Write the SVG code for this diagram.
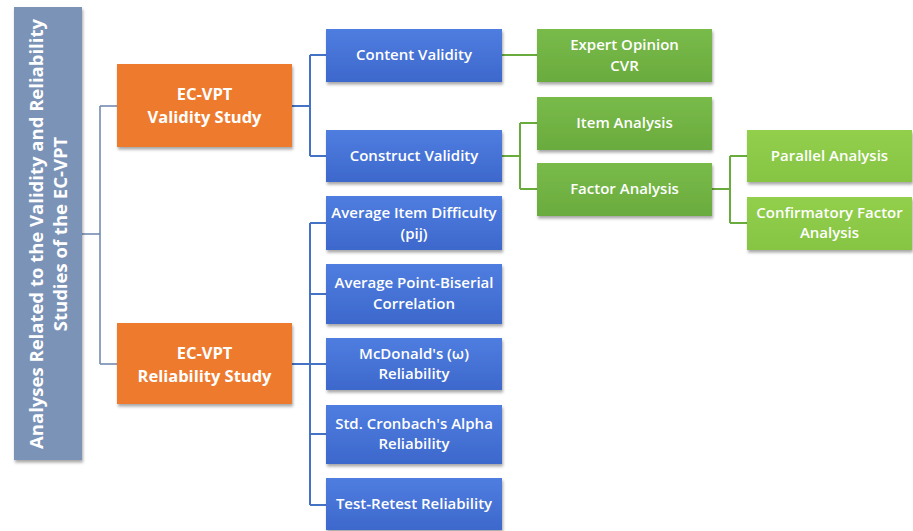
<svg xmlns="http://www.w3.org/2000/svg" width="913" height="531" viewBox="0 0 913 531">
<defs>
<filter id="sh" x="-10%" y="-10%" width="125%" height="135%">
<feDropShadow dx="1" dy="2.5" stdDeviation="1.5" flood-color="#000" flood-opacity="0.35"/>
</filter>
<linearGradient id="gBlue" x1="0" y1="0" x2="0" y2="1">
<stop offset="0" stop-color="#4f7de0"/><stop offset="1" stop-color="#3d68cc"/>
</linearGradient>
<linearGradient id="gGreen" x1="0" y1="0" x2="0" y2="1">
<stop offset="0" stop-color="#79bb4a"/><stop offset="1" stop-color="#6aab3e"/>
</linearGradient>
<linearGradient id="gLight" x1="0" y1="0" x2="0" y2="1">
<stop offset="0" stop-color="#92cf4c"/><stop offset="1" stop-color="#86c443"/>
</linearGradient>
<style>
.gray{fill:#7b93b8}
.orange{fill:#ee7a2f}
.blue{fill:url(#gBlue)}
.green{fill:url(#gGreen)}
.light{fill:url(#gLight)}
.box{filter:url(#sh)}
text{font-family:"Open Sans","Liberation Sans",sans-serif;fill:#fff;text-anchor:middle}
.t{font-size:15px;font-weight:600}
.b{font-size:16.5px;font-weight:bold}
.r{font-size:18.5px;font-weight:bold}
.cg{fill:none;stroke:#6c84ad;stroke-width:1.5}
.cb{fill:none;stroke:#4472c4;stroke-width:2}
.cgr{fill:none;stroke:#6aab3e;stroke-width:2}
</style>
</defs>
<rect width="913" height="531" fill="#fff"/>
<g id="connectors">
<path class="cg" d="M82 234 H100 M100 106 V364 M100 106 H117 M100 364 H117"/>
<path class="cb" d="M292 106 H310 M310 55 V156 M310 55 H326 M310 156 H326"/>
<path class="cb" d="M292 364 H310 M310 223 V505 M310 223 H326 M310 294 H326 M310 364 H326 M310 434 H326 M310 505 H326"/>
<path class="cgr" d="M502 55 H537 M502 156 H520 M520 123 V189 M520 123 H537 M520 189 H537"/>
<path class="cgr" d="M712 189 H730 M730 156 V223 M730 156 H747 M730 223 H747"/>
</g>
<g id="root">
<rect class="gray box" x="14" y="7" width="68" height="453"/>
<text class="r" transform="translate(43 234) rotate(-90)">Analyses Related to the Validity and Reliability</text>
<text class="r" transform="translate(67 234) rotate(-90)">Studies of the EC-VPT</text>
</g>
<g id="validity-study">
<rect class="orange box" x="117" y="64" width="175" height="83"/>
<text class="b" x="204.5" y="100">EC-VPT</text>
<text class="b" x="204.5" y="123">Validity Study</text>
</g>
<g id="reliability-study">
<rect class="orange box" x="117" y="323" width="175" height="81"/>
<text class="b" x="204.5" y="359">EC-VPT</text>
<text class="b" x="204.5" y="382">Reliability Study</text>
</g>
<g id="content-validity">
<rect class="blue box" x="326" y="29" width="176" height="53"/>
<text class="t" x="414" y="60">Content Validity</text>
</g>
<g id="construct-validity">
<rect class="blue box" x="326" y="130" width="176" height="52"/>
<text class="t" x="414" y="161">Construct Validity</text>
</g>
<g id="avg-item-difficulty">
<rect class="blue box" x="326" y="196" width="176" height="54"/>
<text class="t" x="414" y="218">Average Item Difficulty</text>
<text class="t" x="414" y="239">(pij)</text>
</g>
<g id="avg-point-biserial">
<rect class="blue box" x="326" y="264" width="176" height="60"/>
<text class="t" x="414" y="288">Average Point-Biserial</text>
<text class="t" x="414" y="309">Correlation</text>
</g>
<g id="mcdonalds">
<rect class="blue box" x="326" y="338" width="176" height="52"/>
<text class="t" x="414" y="359">McDonald's (ω)</text>
<text class="t" x="414" y="379">Reliability</text>
</g>
<g id="cronbach">
<rect class="blue box" x="326" y="405" width="176" height="59"/>
<text class="t" x="414" y="429">Std. Cronbach's Alpha</text>
<text class="t" x="414" y="449">Reliability</text>
</g>
<g id="test-retest">
<rect class="blue box" x="326" y="478" width="176" height="52"/>
<text class="t" x="414" y="509">Test-Retest Reliability</text>
</g>
<g id="expert-opinion">
<rect class="green box" x="537" y="29" width="175" height="53"/>
<text class="t" x="624.5" y="50">Expert Opinion</text>
<text class="t" x="624.5" y="71">CVR</text>
</g>
<g id="item-analysis">
<rect class="green box" x="537" y="97" width="175" height="53"/>
<text class="t" x="624.5" y="128">Item Analysis</text>
</g>
<g id="factor-analysis">
<rect class="green box" x="537" y="163" width="175" height="53"/>
<text class="t" x="624.5" y="194">Factor Analysis</text>
</g>
<g id="parallel-analysis">
<rect class="light box" x="747" y="130" width="165" height="52"/>
<text class="t" x="829.5" y="161">Parallel Analysis</text>
</g>
<g id="cfa">
<rect class="light box" x="747" y="197" width="165" height="53"/>
<text class="t" x="829.5" y="218">Confirmatory Factor</text>
<text class="t" x="829.5" y="238">Analysis</text>
</g>
</svg>
